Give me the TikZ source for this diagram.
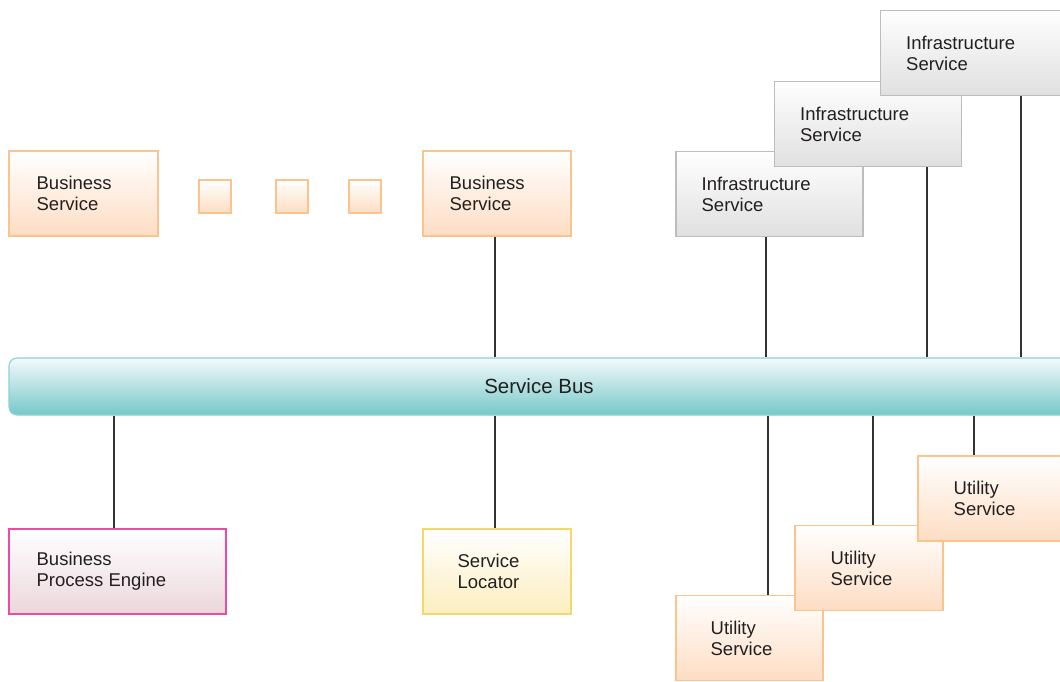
\documentclass[tikz,border=0pt]{standalone}
\usepackage{fontspec}
\setmainfont{Liberation Sans}
\usetikzlibrary{calc}
\definecolor{txtc}{HTML}{231F20}
\definecolor{orgline}{HTML}{FBC38D}
\definecolor{orgfill}{HTML}{FDDDC3}
\definecolor{grayline}{HTML}{BDBDBD}
\definecolor{grayfill}{HTML}{E0E0E0}
\definecolor{busline}{HTML}{8AD3D3}
\definecolor{bustop}{HTML}{F3FAFA}
\definecolor{busbot}{HTML}{77C8CA}
\definecolor{bpeline}{HTML}{EC4AA4}
\definecolor{bpefill}{HTML}{EAD7DC}
\definecolor{locline}{HTML}{F1D96C}
\definecolor{locfill}{HTML}{FCEEBE}
\definecolor{linkc}{HTML}{333333}
\tikzset{
  x=1pt, y=-1pt,
  box/.style={rectangle, line width=1.1pt, inner sep=0pt, minimum width=148pt, minimum height=85pt},
  orgbox/.style={box, draw=orgline, top color=white, bottom color=orgfill},
  graybox/.style={box, draw=grayline, top color=white!98!grayfill, bottom color=grayfill, minimum width=187pt},
  bpebox/.style={box, draw=bpeline, top color=white, bottom color=bpefill},
  locbox/.style={box, draw=locline, top color=white, bottom color=locfill},
  dotbox/.style={orgbox, minimum width=32pt, minimum height=33pt},
  txt/.style={anchor=west, inner sep=0pt, align=left, text=txtc,
    font=\fontsize{18.5pt}{21pt}\selectfont},
  link/.style={draw=linkc, line width=1.2pt},
}
\begin{document}
\begin{tikzpicture}
\useasboundingbox (0,0) rectangle (1060,681);
\clip (0,0) rectangle (1060,681);
\fill[white] (0,0) rectangle (1060,681);

% service bus
\node[rectangle, rounded corners=8pt, line width=1.1pt, draw=busline,
  top color=bustop, bottom color=busbot, minimum width=1060pt, minimum height=57pt,
  text=txtc, font=\fontsize{20.5pt}{23pt}\selectfont] (bus) at (539,386.5) {Service Bus};

% attachment points along the bus
\coordinate (xbs2) at (495,0);
\coordinate (xin1) at (766,0);
\coordinate (xin2) at (927,0);
\coordinate (xin3) at (1021,0);
\coordinate (xbpe) at (114,0);
\coordinate (xloc) at (495,0);
\coordinate (xut1) at (768,0);
\coordinate (xut2) at (873,0);
\coordinate (xut3) at (974,0);

% business services
\node[orgbox, minimum width=149pt] (bs1) at (83.5,193.5) {};
\node[txt] (bs1t) at ($(bs1.west)+(28,0)$) {Business\\Service};
\node[dotbox] (d1) at (215,196.5) {};
\node[dotbox] (d2) at (292,196.5) {};
\node[dotbox] (d3) at (365,196.5) {};
\node[orgbox] (bs2) at (497,193.5) {};
\node[txt] (bs2t) at ($(bs2.west)+(27,0)$) {Business\\Service};

% infrastructure services
\node[graybox] (in1) at (769.5,194) {};
\node[txt] (in1t) at ($(in1.west)+(26,0)$) {Infrastructure\\Service};
\node[graybox] (in2) at (868,124) {};
\node[txt] (in2t) at ($(in2.west)+(26,0)$) {Infrastructure\\Service};
\node[graybox] (in3) at (974,53) {};
\node[txt] (in3t) at ($(in3.west)+(26,0)$) {Infrastructure\\Service};

% engine and locator
\node[bpebox, minimum width=217pt] (bpe) at (117.5,571.5) {};
\node[txt] (bpet) at ($(bpe.west)+(28,0)$) {Business\\Process Engine};
\node[locbox] (loc) at (497,571.5) {};
\node[txt] (loct) at ($(loc.west)+(35,0)$) {Service\\Locator};

% utility services
\node[orgbox, minimum width=147pt] (ut1) at (749.5,638) {};
\node[txt] (ut1t) at ($(ut1.west)+(35,0)$) {Utility\\Service};
\node[orgbox] (ut2) at (869,568) {};
\node[txt] (ut2t) at ($(ut2.west)+(36,0)$) {Utility\\Service};
\node[orgbox] (ut3) at (992,498.5) {};
\node[txt] (ut3t) at ($(ut3.west)+(36,0)$) {Utility\\Service};

% connectors above the bus
\draw[link] (bs2.south -| xbs2) -- (bus.north -| xbs2);
\draw[link] (in1.south -| xin1) -- (bus.north -| xin1);
\draw[link] (in2.south -| xin2) -- (bus.north -| xin2);
\draw[link] (in3.south -| xin3) -- (bus.north -| xin3);

% connectors below the bus
\draw[link] (bus.south -| xbpe) -- (bpe.north -| xbpe);
\draw[link] (bus.south -| xloc) -- (loc.north -| xloc);
\draw[link] (bus.south -| xut1) -- (ut1.north -| xut1);
\draw[link] (bus.south -| xut2) -- (ut2.north -| xut2);
\draw[link] (bus.south -| xut3) -- (ut3.north -| xut3);
\end{tikzpicture}
\end{document}
